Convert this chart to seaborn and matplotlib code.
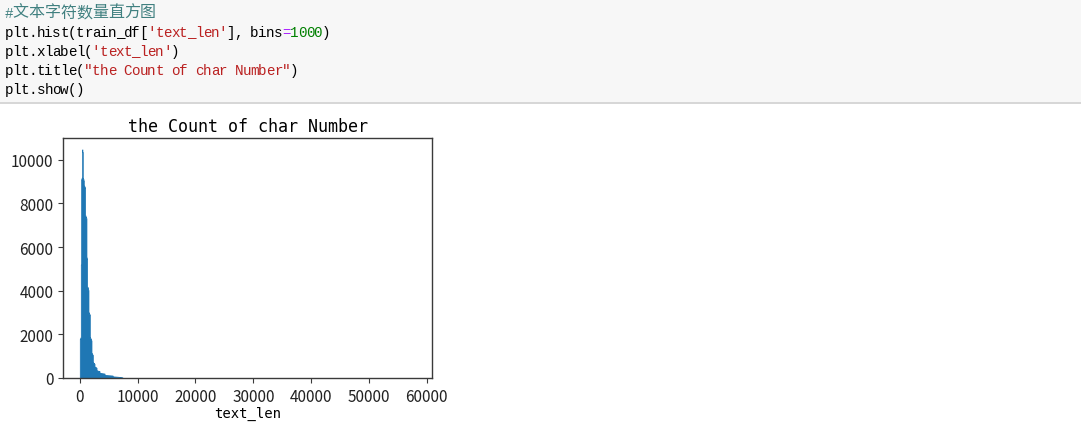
import numpy as np
import pandas as pd
import seaborn as sns
import matplotlib.pyplot as plt
from matplotlib.patches import Rectangle
from matplotlib.lines import Line2D

# ---- data ----
bin_width = 58          # chars per bin, 1000 bins up to ~58000
n_bins = 1000
head_counts = [
    1790, 1820, 1860, 5200, 9100, 9150, 9180, 10470, 10350, 9160,
    9120, 9050, 8820, 8790, 8760, 8700, 7450, 7400, 7380, 7320,
    5520, 5460, 4180, 4150, 4100, 4030, 3010, 2970, 2940, 2900,
    1880, 1830, 1800, 1760, 1720, 1150, 1110, 1080, 1050, 720,
    700, 690, 670, 650, 520, 510, 500, 490, 480, 470,
    350, 345, 340, 335, 330, 325, 320, 315, 310, 230,
    228, 226, 224, 222, 220, 218, 216, 214, 212, 210,
    208, 206, 204, 202, 135, 134, 133, 132, 131, 130,
    129, 128, 127, 126, 125, 124, 123, 122, 121, 120,
    119, 118, 117, 116, 115, 114, 113, 112, 72, 71,
    70, 69, 68, 67, 66, 65, 64, 63, 62, 61,
    60, 59, 58, 57, 56, 55, 54, 53, 52, 51,
    50, 38, 36, 34, 32, 30, 28, 10, 8, 6,
]
long_text_lens = [11800, 20400, 31500, 57950]

code_lines = [
    [("#", "#408080", "mono"), ("文本字符数量直方图", "#408080", "cjk")],
    [("plt.hist(train_df[", "#000000", "mono"), ("'text_len'", "#ba2121", "mono"),
     ("], bins", "#000000", "mono"), ("=", "#aa22ff", "mono"),
     ("1000", "#008000", "mono"), (")", "#000000", "mono")],
    [("plt.xlabel(", "#000000", "mono"), ("'text_len'", "#ba2121", "mono"),
     (")", "#000000", "mono")],
    [("plt.title(", "#000000", "mono"), ('"the Count of char Number"', "#ba2121", "mono"),
     (")", "#000000", "mono")],
    [("plt.show()", "#000000", "mono")],
]

W, H = 1081, 435
plt.rcParams['font.family'] = ['Noto Sans CJK SC', 'DejaVu Sans']

fig = plt.figure(figsize=(W / 100, H / 100), dpi=100)

# notebook code cell
cell_h = 103
fig.add_artist(Rectangle((0, 1 - cell_h / H), 1, cell_h / H, transform=fig.transFigure,
                         facecolor='#f7f7f7', edgecolor='none', zorder=0))
fig.add_artist(Line2D([0, 1], [1 - (cell_h + 0.5) / H] * 2, transform=fig.transFigure,
                      color='#cfcfcf', lw=1.2))

# fixed grid like the notebook's monospace font (each char in its own cell)
char_w = 7.92
x0 = 5
baselines = [17.5, 36.8, 55.8, 74.8, 93.8]
for line, yb in zip(code_lines, baselines):
    x = x0
    for txt, col, kind in line:
        if kind == "mono":
            for ch in txt:
                fig.text((x + char_w / 2) / W, 1 - yb / H, ch, color=col, fontsize=10.3,
                         family='Liberation Mono', va='baseline', ha='center')
                x += char_w
        else:
            for ch in txt:
                fig.text((x + char_w) / W, 1 - yb / H, ch, color=col, fontsize=11.5,
                         family='Noto Sans CJK SC', va='baseline', ha='center')
                x += 2 * char_w

# histogram output
ax = fig.add_axes([63 / W, (H - 379) / H, 369 / W, 240 / H])
centers = [bin_width * (i + 0.5) for i in range(len(head_counts))] + long_text_lens
weights = head_counts + [1] * len(long_text_lens)
df = pd.DataFrame({'text_len': centers, 'count': weights})
sns.histplot(data=df, x='text_len', weights='count', bins=n_bins,
             binrange=(0, n_bins * bin_width), element='step', fill=True,
             color='#1f77b4', alpha=1, linewidth=0.5, edgecolor='#1f77b4', ax=ax)
ax.set_ylim(bottom=0)
ax.set_ylabel('')
ax.set_xlabel('text_len', family='DejaVu Sans Mono', fontsize=10, labelpad=1)
ax.set_title('the Count of char Number', family='DejaVu Sans Mono', fontsize=12, pad=5)
for s in ax.spines.values():
    s.set_color('#3a3a3a')
    s.set_linewidth(1.0)
ax.tick_params(colors='#3a3a3a', labelcolor='#222222', labelsize=11)

fig.savefig('out.png', dpi=100)
